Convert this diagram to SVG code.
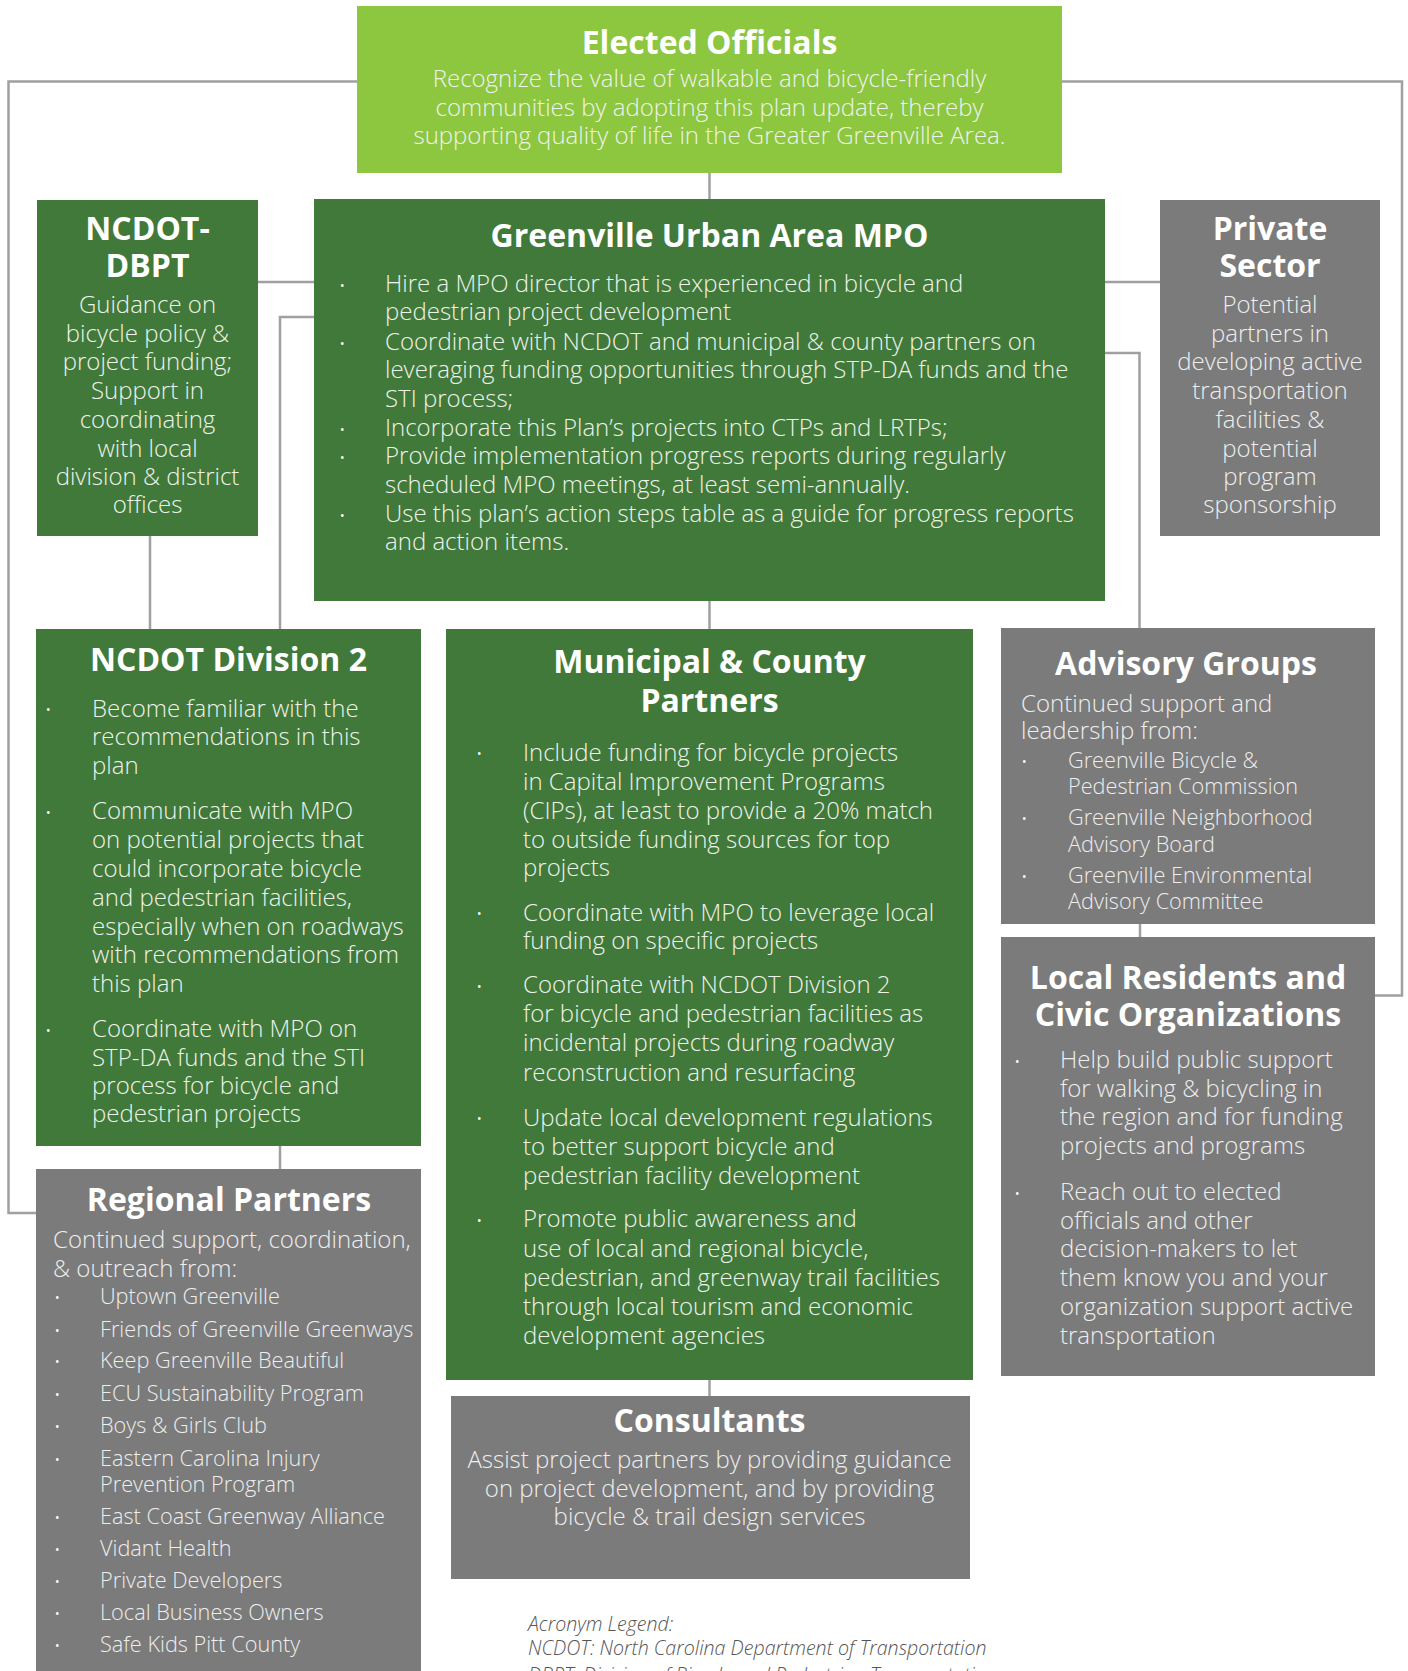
<svg xmlns="http://www.w3.org/2000/svg" width="1408" height="1671" viewBox="0 0 1408 1671">
<style>
.lg{fill:#8DC63F}.dg{fill:#41793A}.gr{fill:#7B7B7B}
.t{font-family:"Open Sans","Liberation Sans",sans-serif;font-weight:700;font-size:32px;fill:#FFFFFF;text-anchor:middle}
.b{font-family:"Open Sans","Liberation Sans",sans-serif;font-weight:300;font-size:24px;fill:#EEF3EC}
.bg{font-family:"Open Sans","Liberation Sans",sans-serif;font-weight:300;font-size:24px;fill:#EEEEEE}
.s{font-family:"Open Sans","Liberation Sans",sans-serif;font-weight:300;font-size:21.7px;fill:#EEEEEE}
.c{text-anchor:middle}
.d{font-family:"Open Sans","Liberation Sans",sans-serif;font-size:12px;fill:#FFFFFF}
.lgd{font-family:"Open Sans","Liberation Sans",sans-serif;font-weight:300;font-style:italic;font-size:19.6px;fill:#555555}
.cn{fill:none;stroke:#9FA0A3;stroke-width:2.5}
</style>
<g id="connectors">
<path class="cn" d="M709.5,173 V199"/>
<path class="cn" d="M357,81.5 H8.5 V1213 H36"/>
<path class="cn" d="M1062,81.5 H1402 V995.5 H1375"/>
<path class="cn" d="M258,282 H314"/>
<path class="cn" d="M314,317 H280 V629"/>
<path class="cn" d="M150,536 V629"/>
<path class="cn" d="M1105,282 H1160"/>
<path class="cn" d="M1105,353 H1139.5 V628"/>
<path class="cn" d="M709.5,601 V629"/>
<path class="cn" d="M280,1146 V1169"/>
<path class="cn" d="M1140,924 V937"/>
<path class="cn" d="M709.5,1380 V1396"/>
</g>
<g id="elected-officials">
<rect class="lg" x="357" y="6" width="705" height="167"/>
<text class="t" x="709.5" y="54">Elected Officials</text>
<text class="b c" x="709.5" y="87">Recognize the value of walkable and bicycle-friendly</text>
<text class="b c" x="709.5" y="116">communities by adopting this plan update, thereby</text>
<text class="b c" x="709.5" y="144">supporting quality of life in the Greater Greenville Area.</text>
</g>
<g id="ncdot-dbpt">
<rect class="dg" x="37" y="200" width="221" height="336"/>
<text class="t" x="147.5" y="240">NCDOT-</text>
<text class="t" x="147.5" y="277">DBPT</text>
<text class="b c" x="147.5" y="313">Guidance on</text>
<text class="b c" x="147.5" y="342">bicycle policy &amp;</text>
<text class="b c" x="147.5" y="370">project funding;</text>
<text class="b c" x="147.5" y="399">Support in</text>
<text class="b c" x="147.5" y="428">coordinating</text>
<text class="b c" x="147.5" y="457">with local</text>
<text class="b c" x="147.5" y="485">division &amp; district</text>
<text class="b c" x="147.5" y="513">offices</text>
</g>
<g id="mpo">
<rect class="dg" x="314" y="199" width="791" height="402"/>
<text class="t" x="709.5" y="247">Greenville Urban Area MPO</text>
<text class="d" x="340" y="290">•</text>
<text class="d" x="340" y="348">•</text>
<text class="d" x="340" y="434">•</text>
<text class="d" x="340" y="462">•</text>
<text class="d" x="340" y="520">•</text>
<text class="b" x="385" y="292">Hire a MPO director that is experienced in bicycle and</text>
<text class="b" x="385" y="320">pedestrian project development</text>
<text class="b" x="385" y="350">Coordinate with NCDOT and municipal &amp; county partners on</text>
<text class="b" x="385" y="378">leveraging funding opportunities through STP-DA funds and the</text>
<text class="b" x="385" y="407">STI process;</text>
<text class="b" x="385" y="436">Incorporate this Plan’s projects into CTPs and LRTPs;</text>
<text class="b" x="385" y="464">Provide implementation progress reports during regularly</text>
<text class="b" x="385" y="493">scheduled MPO meetings, at least semi-annually.</text>
<text class="b" x="385" y="522">Use this plan’s action steps table as a guide for progress reports</text>
<text class="b" x="385" y="550">and action items.</text>
</g>
<g id="private-sector">
<rect class="gr" x="1160" y="200" width="220" height="336"/>
<text class="t" x="1270" y="240">Private</text>
<text class="t" x="1270" y="277">Sector</text>
<text class="bg c" x="1270" y="313">Potential</text>
<text class="bg c" x="1270" y="342">partners in</text>
<text class="bg c" x="1270" y="370">developing active</text>
<text class="bg c" x="1270" y="399">transportation</text>
<text class="bg c" x="1270" y="428">facilities &amp;</text>
<text class="bg c" x="1270" y="457">potential</text>
<text class="bg c" x="1270" y="485">program</text>
<text class="bg c" x="1270" y="513">sponsorship</text>
</g>
<g id="ncdot-division-2">
<rect class="dg" x="36" y="629" width="385" height="517"/>
<text class="t" x="228.5" y="671">NCDOT Division 2</text>
<text class="d" x="46" y="714">•</text>
<text class="d" x="46" y="817">•</text>
<text class="d" x="46" y="1035">•</text>
<text class="b" x="92" y="716.5">Become familiar with the</text>
<text class="b" x="92" y="745">recommendations in this</text>
<text class="b" x="92" y="774">plan</text>
<text class="b" x="92" y="819">Communicate with MPO</text>
<text class="b" x="92" y="848">on potential projects that</text>
<text class="b" x="92" y="877">could incorporate bicycle</text>
<text class="b" x="92" y="906">and pedestrian facilities,</text>
<text class="b" x="92" y="935">especially when on roadways</text>
<text class="b" x="92" y="963">with recommendations from</text>
<text class="b" x="92" y="992">this plan</text>
<text class="b" x="92" y="1037">Coordinate with MPO on</text>
<text class="b" x="92" y="1065.5">STP-DA funds and the STI</text>
<text class="b" x="92" y="1094">process for bicycle and</text>
<text class="b" x="92" y="1122">pedestrian projects</text>
</g>
<g id="municipal-county-partners">
<rect class="dg" x="446" y="629" width="527" height="751"/>
<text class="t" x="709.5" y="673">Municipal &amp; County</text>
<text class="t" x="709.5" y="712">Partners</text>
<text class="d" x="477" y="758">•</text>
<text class="d" x="477" y="918">•</text>
<text class="d" x="477" y="991">•</text>
<text class="d" x="477" y="1123">•</text>
<text class="d" x="477" y="1225">•</text>
<text class="b" x="523" y="760.6">Include funding for bicycle projects</text>
<text class="b" x="523" y="789.7">in Capital Improvement Programs</text>
<text class="b" x="523" y="818.7">(CIPs), at least to provide a 20% match</text>
<text class="b" x="523" y="847.8">to outside funding sources for top</text>
<text class="b" x="523" y="876">projects</text>
<text class="b" x="523" y="920.5">Coordinate with MPO to leverage local</text>
<text class="b" x="523" y="948.6">funding on specific projects</text>
<text class="b" x="523" y="993">Coordinate with NCDOT Division 2</text>
<text class="b" x="523" y="1022">for bicycle and pedestrian facilities as</text>
<text class="b" x="523" y="1051">incidental projects during roadway</text>
<text class="b" x="523" y="1080.5">reconstruction and resurfacing</text>
<text class="b" x="523" y="1125.6">Update local development regulations</text>
<text class="b" x="523" y="1154.6">to better support bicycle and</text>
<text class="b" x="523" y="1183.7">pedestrian facility development</text>
<text class="b" x="523" y="1227.4">Promote public awareness and</text>
<text class="b" x="523" y="1256.5">use of local and regional bicycle,</text>
<text class="b" x="523" y="1285.5">pedestrian, and greenway trail facilities</text>
<text class="b" x="523" y="1314.6">through local tourism and economic</text>
<text class="b" x="523" y="1343.7">development agencies</text>
</g>
<g id="advisory-groups">
<rect class="gr" x="1001" y="628" width="374" height="296"/>
<text class="t" x="1186" y="675">Advisory Groups</text>
<text class="bg" x="1021" y="712">Continued support and</text>
<text class="bg" x="1021" y="739">leadership from:</text>
<text class="d" x="1022" y="766">•</text>
<text class="d" x="1022" y="823">•</text>
<text class="d" x="1022" y="881">•</text>
<text class="s" x="1068" y="768">Greenville Bicycle &amp;</text>
<text class="s" x="1068" y="794">Pedestrian Commission</text>
<text class="s" x="1068" y="825">Greenville Neighborhood</text>
<text class="s" x="1068" y="852">Advisory Board</text>
<text class="s" x="1068" y="883">Greenville Environmental</text>
<text class="s" x="1068" y="909">Advisory Committee</text>
</g>
<g id="local-residents">
<rect class="gr" x="1001" y="937" width="374" height="439"/>
<text class="t" x="1188" y="989">Local Residents and</text>
<text class="t" x="1188" y="1026">Civic Organizations</text>
<text class="d" x="1015" y="1066">•</text>
<text class="d" x="1015" y="1198">•</text>
<text class="bg" x="1060" y="1067.7">Help build public support</text>
<text class="bg" x="1060" y="1097">for walking &amp; bicycling in</text>
<text class="bg" x="1060" y="1125.4">the region and for funding</text>
<text class="bg" x="1060" y="1154">projects and programs</text>
<text class="bg" x="1060" y="1199.6">Reach out to elected</text>
<text class="bg" x="1060" y="1228.8">officials and other</text>
<text class="bg" x="1060" y="1257.4">decision-makers to let</text>
<text class="bg" x="1060" y="1286">them know you and your</text>
<text class="bg" x="1060" y="1315">organization support active</text>
<text class="bg" x="1060" y="1343.6">transportation</text>
</g>
<g id="regional-partners">
<rect class="gr" x="36" y="1169" width="385" height="510"/>
<text class="t" x="229" y="1210.7">Regional Partners</text>
<text class="bg" x="53" y="1248">Continued support, coordination,</text>
<text class="bg" x="53" y="1276.7">&amp; outreach from:</text>
<g class="d">
<text x="55" y="1302">•</text><text x="55" y="1335">•</text><text x="55" y="1366">•</text><text x="55" y="1399">•</text>
<text x="55" y="1431">•</text><text x="55" y="1464">•</text><text x="55" y="1522">•</text><text x="55" y="1554">•</text>
<text x="55" y="1586">•</text><text x="55" y="1618">•</text><text x="55" y="1650">•</text>
</g>
<text class="s" x="100" y="1304">Uptown Greenville</text>
<text class="s" x="100" y="1336.7">Friends of Greenville Greenways</text>
<text class="s" x="100" y="1368">Keep Greenville Beautiful</text>
<text class="s" x="100" y="1400.7">ECU Sustainability Program</text>
<text class="s" x="100" y="1433">Boys &amp; Girls Club</text>
<text class="s" x="100" y="1466">Eastern Carolina Injury</text>
<text class="s" x="100" y="1491.7">Prevention Program</text>
<text class="s" x="100" y="1524">East Coast Greenway Alliance</text>
<text class="s" x="100" y="1556">Vidant Health</text>
<text class="s" x="100" y="1588">Private Developers</text>
<text class="s" x="100" y="1620">Local Business Owners</text>
<text class="s" x="100" y="1651.7">Safe Kids Pitt County</text>
</g>
<g id="consultants">
<rect class="gr" x="451" y="1396" width="519" height="183"/>
<text class="t" x="709.5" y="1431.7">Consultants</text>
<text class="bg c" x="709.5" y="1468">Assist project partners by providing guidance</text>
<text class="bg c" x="709.5" y="1496.7">on project development, and by providing</text>
<text class="bg c" x="709.5" y="1525">bicycle &amp; trail design services</text>
</g>
<g id="legend">
<text class="lgd" x="528" y="1631">Acronym Legend:</text>
<text class="lgd" x="528" y="1655">NCDOT: North Carolina Department of Transportation</text>
<text class="lgd" x="528" y="1682">DBPT: Division of Bicycle and Pedestrian Transportation</text>
</g>
</svg>
